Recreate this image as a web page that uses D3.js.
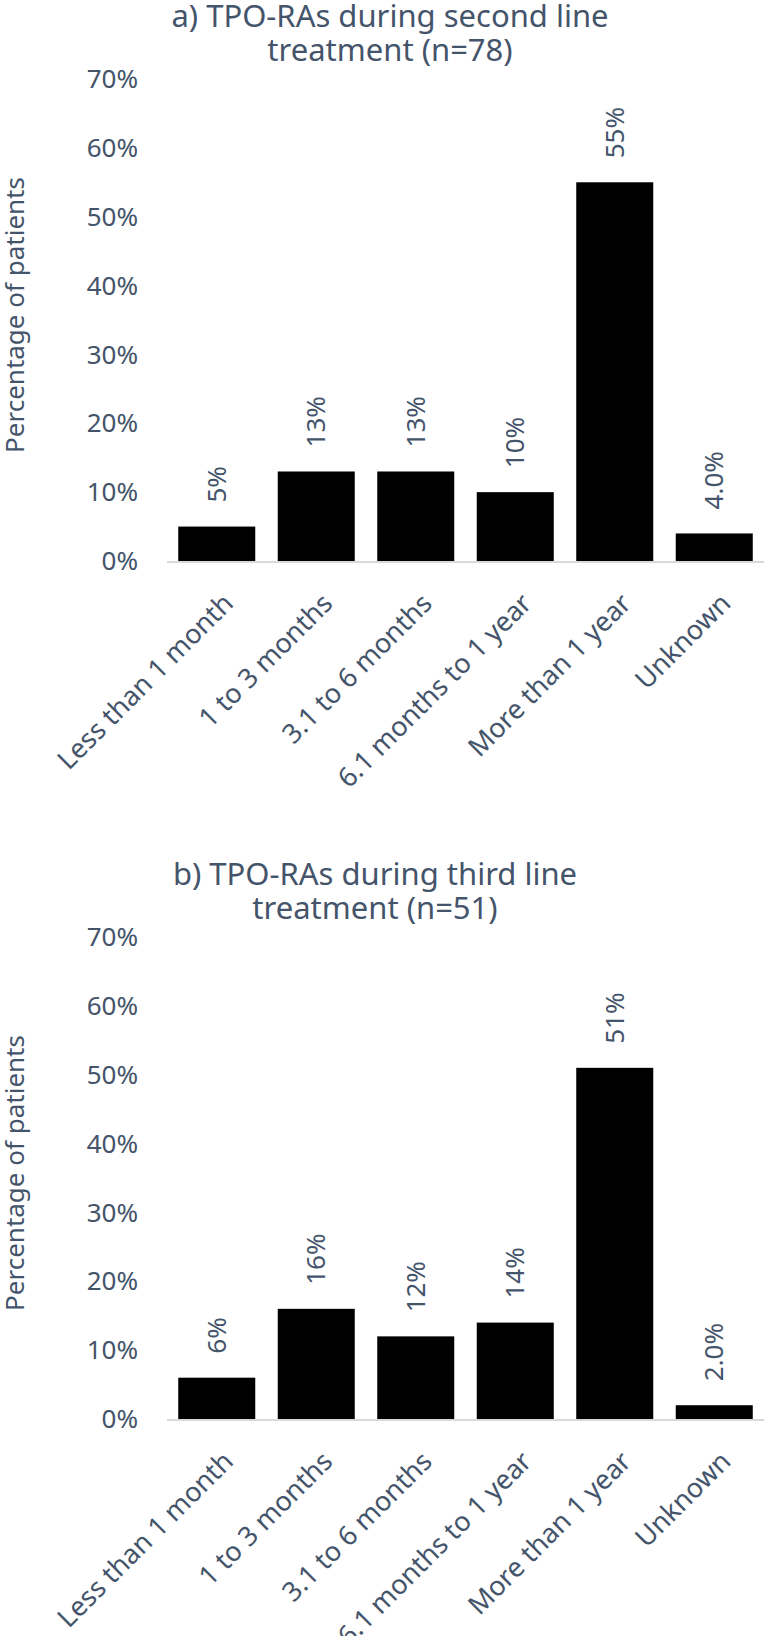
<!DOCTYPE html>
<html>
<head>
<meta charset="utf-8">
<script src="https://cdn.jsdelivr.net/npm/d3@7"></script>
<style>
	body { margin: 0; background: #fff; }
	svg { display: block; }
	text { font-family: "Noto Sans", "Open Sans", sans-serif; fill: #44546A; }
</style>
</head>
<body>
<div id="chart"></div>
<script>
"use strict";

var categories = ['Less than 1 month', '1 to 3 months', '3.1 to 6 months', '6.1 months to 1 year', 'More than 1 year', 'Unknown'];
var second_line_values = [5, 13, 13, 10, 55, 4];
var second_line_labels = ['5%', '13%', '13%', '10%', '55%', '4.0%'];
var third_line_values = [6, 16, 12, 14, 51, 2];
var third_line_labels = ['6%', '16%', '12%', '14%', '51%', '2.0%'];
var y_ticks = [0, 10, 20, 30, 40, 50, 60, 70];
var second_line_title = ['a) TPO-RAs during second line', 'treatment (n=78)'];
var third_line_title = ['b) TPO-RAs during third line', 'treatment (n=51)'];
var y_title = 'Percentage of patients';

var properties = {
	width: 764,
	height: 1636,
	plot_left: 167,
	plot_right: 764,
	plot_top: 79,
	plot_bottom: 561,
	panel_offset: 858,
	tick_x: 138,
	font_size: 26,
	category_size: 27,
	title_size: 31
};

var svg = d3.select('#chart').append('svg')
	.attr('width', properties.width)
	.attr('height', properties.height);

//one panel per treatment line
function draw_panel(offset, title, title_x, values, labels) {

	var g = svg.append('g')
		.attr('transform', 'translate(0,' + offset + ')');

	var x = d3.scaleBand()
		.domain(categories)
		.range([properties.plot_left, properties.plot_right])
		.paddingInner(0.226)
		.paddingOuter(0.113);

	var y = d3.scaleLinear()
		.domain([0, 70])
		.range([properties.plot_bottom, properties.plot_top]);

	//title, two lines
	g.append('text')
		.attr('text-anchor', 'middle')
		.style('font-size', properties.title_size + 'px')
		.selectAll('tspan')
		.data(title)
		.enter().append('tspan')
		.attr('x', title_x)
		.attr('y', function(d, i) { return 27 + i * 34; })
		.text(function(d) { return d; });

	//y tick labels
	g.selectAll('.tick-label')
		.data(y_ticks)
		.enter().append('text')
		.attr('class', 'tick-label')
		.attr('x', properties.tick_x)
		.attr('y', function(d) { return y(d); })
		.attr('dy', '0.35em')
		.attr('text-anchor', 'end')
		.style('font-size', properties.font_size + 'px')
		.text(function(d) { return d + '%'; });

	//y axis title
	var mid = (properties.plot_top + properties.plot_bottom) / 2 - 5;
	g.append('text')
		.attr('transform', 'translate(15,' + mid + ') rotate(-90)')
		.attr('dy', '0.35em')
		.attr('text-anchor', 'middle')
		.style('font-size', properties.font_size + 'px')
		.text(y_title);

	//bars
	g.selectAll('.bar')
		.data(values)
		.enter().append('rect')
		.attr('class', 'bar')
		.attr('x', function(d, i) { return x(categories[i]); })
		.attr('y', function(d) { return y(d); })
		.attr('width', x.bandwidth())
		.attr('height', function(d) { return y(0) - y(d); })
		.style('fill', '#000');

	//baseline
	g.append('line')
		.attr('x1', properties.plot_left)
		.attr('x2', properties.plot_right)
		.attr('y1', y(0) + 1)
		.attr('y2', y(0) + 1)
		.style('stroke', '#D9D9D9')
		.style('stroke-width', 2);

	//value labels above bars
	g.selectAll('.value-label')
		.data(values)
		.enter().append('text')
		.attr('class', 'value-label')
		.attr('transform', function(d, i) {
			var cx = x(categories[i]) + x.bandwidth() / 2;
			return 'translate(' + cx + ',' + (y(d) - 24) + ') rotate(-90)';
		})
		.attr('dy', '0.35em')
		.attr('text-anchor', 'start')
		.style('font-size', properties.font_size + 'px')
		.text(function(d, i) { return labels[i]; });

	//category labels at 45 degrees
	g.selectAll('.cat-label')
		.data(categories)
		.enter().append('text')
		.attr('class', 'cat-label')
		.attr('transform', function(d) {
			var cx = x(d) + x.bandwidth() / 2;
			return 'translate(' + (cx + 18) + ',' + (y(0) + 44) + ') rotate(-45)';
		})
		.attr('text-anchor', 'end')
		.style('font-size', properties.category_size + 'px')
		.text(function(d) { return d; });
}

draw_panel(0, second_line_title, 390, second_line_values, second_line_labels);
draw_panel(properties.panel_offset, third_line_title, 375, third_line_values, third_line_labels);
</script>
</body>
</html>
